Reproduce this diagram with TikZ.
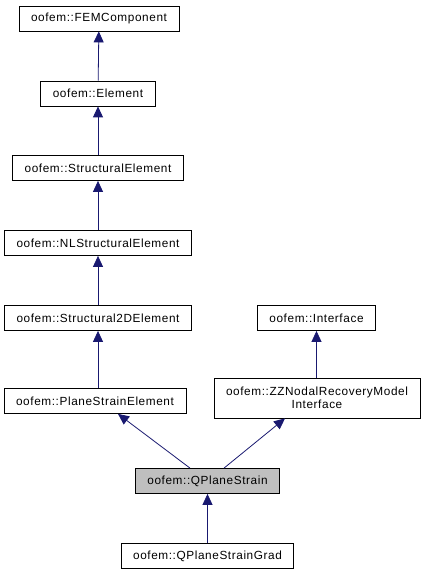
\documentclass[tikz,border=0pt]{standalone}
\usepackage{fontspec}
\setmainfont{Liberation Sans}[LetterSpace=5.0]
\usetikzlibrary{arrows.meta}
\definecolor{edgeblue}{RGB}{25,25,112}
\definecolor{focusgray}{RGB}{191,191,191}

\begin{document}
\begin{tikzpicture}[x=1pt, y=-1pt,
		class/.style={draw, thick, fill=white, minimum height=25pt, inner xsep=12pt, inner ysep=2pt, font=\fontsize{11.8}{13.5}\selectfont, align=center},
		edge/.style={draw=edgeblue, thick, -{Triangle[length=11pt, width=10pt, fill=edgeblue]}}]
				\useasboundingbox (0, 0) rectangle (426, 575);

				\node[class] at (99, 18.5) (fem-component) {oofem::FEMComponent};
				\node[class] at (98, 93.5) (element) {oofem::Element};
				\node[class] at (98, 168) (structural-element) {oofem::StructuralElement};
				\node[class] at (98, 243) (nl-structural-element) {oofem::NLStructuralElement};
				\node[class] at (98, 318) (structural-2d-element) {oofem::Structural2DElement};
				\node[class] at (95, 401) (plane-strain-element) {oofem::PlaneStrainElement};

				\node[class] at (316.5, 318) (interface) {oofem::Interface};
				\node[class, minimum height=40pt] at (317, 398) (zz-interface) {oofem::ZZNodalRecoveryModel\\Interface};

				\node[class, fill=focusgray] at (207.5, 481) (qplane-strain) {oofem::QPlaneStrain};
				\node[class] at (207.5, 556) (qplane-strain-grad) {oofem::QPlaneStrainGrad};

				\draw[edge] (element) -- (fem-component);
				\draw[edge] (structural-element) -- (element);
				\draw[edge] (nl-structural-element) -- (structural-element);
				\draw[edge] (structural-2d-element) -- (nl-structural-element);
				\draw[edge] (plane-strain-element.north -| structural-2d-element) -- (structural-2d-element);
				\draw[edge] (zz-interface.north -| interface) -- (interface);
				\draw[edge] ([xshift=-17.5pt]qplane-strain.north) -- ([xshift=23pt]plane-strain-element.south);
				\draw[edge] ([xshift=16.5pt]qplane-strain.north) -- ([xshift=-32pt]zz-interface.south);
				\draw[edge] (qplane-strain-grad) -- (qplane-strain);
			\end{tikzpicture}
\end{document}
